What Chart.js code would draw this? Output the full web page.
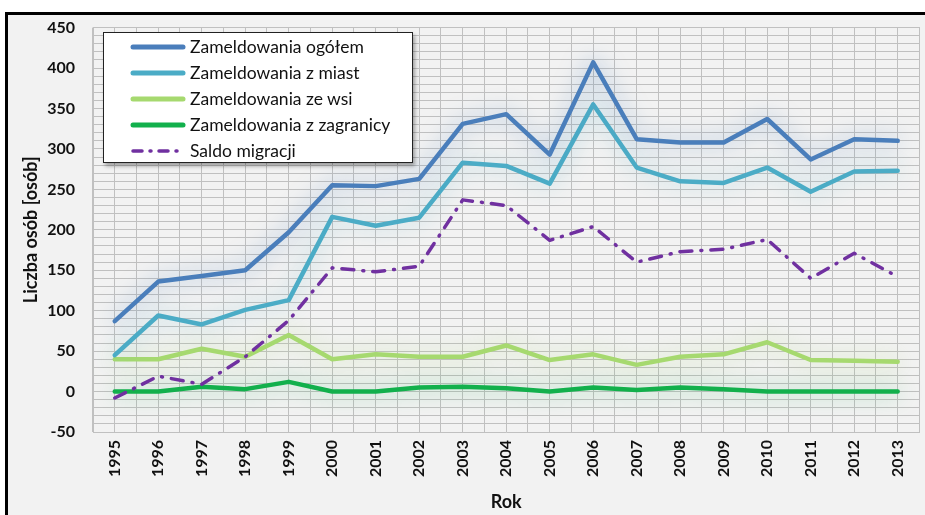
<!DOCTYPE html>
<html>
<head>
<meta charset="utf-8">
<script src="https://cdn.jsdelivr.net/npm/chart.js@4/dist/chart.umd.min.js"></script>
<style>
  html, body { margin: 0; padding: 0; background: #fff; }
  #wrap { position: relative; width: 925px; height: 515px; overflow: hidden; }
  #frame {
    position: absolute; left: 5px; top: 12px; width: 940px; height: 520px;
    border-left: 3px solid #000; border-top: 3px solid #000; background: #f2f2f2;
  }
  #chart { position: absolute; left: 0; top: 0; }
  #legend {
    position: absolute; left: 103px; top: 32px; width: 308px; height: 129px;
    background: #fff; border: 1.5px solid #222; box-shadow: 2px 3px 4px rgba(0,0,0,0.35);
    font-family: Lato, "Open Sans", sans-serif; font-size: 17.5px; color: #111;
  }
  .row { position: absolute; left: 0; height: 26px; line-height: 26px; white-space: nowrap; }
  .row svg { position: absolute; left: 26px; top: 8px; }
  .row span { position: absolute; left: 86px; top: 0; }
</style>
</head>
<body>
<div id="wrap">
  <div id="frame"></div>
  <canvas id="chart" width="925" height="515"></canvas>
  <div id="legend"></div>
</div>
<script>
// lata
const years = ["1995","1996","1997","1998","1999","2000","2001","2002","2003","2004",
               "2005","2006","2007","2008","2009","2010","2011","2012","2013"];

// wartości serii
const ogolem    = [87, 136, 143, 150, 197, 255, 254, 263, 331, 343, 293, 407, 312, 308, 308, 337, 287, 312, 310];
const zMiast    = [45, 94, 83, 101, 113, 216, 205, 215, 283, 279, 257, 355, 277, 260, 258, 277, 247, 272, 273];
const zeWsi     = [40, 40, 53, 43, 70, 40, 46, 43, 43, 57, 39, 46, 33, 43, 46, 61, 39, 38, 37];
const zZagranicy = [0, 0, 6, 3, 12, 0, 0, 5, 6, 4, 0, 5, 2, 5, 3, 0, 0, 0, 0];
const saldo     = [-8, 19, 9, 43, 88, 153, 148, 155, 237, 230, 187, 204, 160, 173, 176, 188, 140, 171, 142];

const seriesNames = ["Zameldowania ogółem", "Zameldowania z miast", "Zameldowania ze wsi",
                     "Zameldowania z zagranicy", "Saldo migracji"];
const yMin = -50, yMax = 450, yMinorStep = 10, yLabelStep = 50;

const colors = ["#4a7ebb", "#4bacc6", "#a6d96f", "#12b04c", "#7030a0"];
const glows  = ["rgba(74,126,187,0.6)", "rgba(75,172,198,0.45)", "rgba(166,217,111,0.6)",
                "rgba(18,176,76,0.5)", null];

// poświata pod liniami (jak efekt cienia w Excelu)
const glowPlugin = {
  id: "glow",
  beforeDatasetDraw(chart, args) {
    const g = glows[args.index];
    chart.ctx.save();
    if (g) {
      chart.ctx.shadowColor = g;
      chart.ctx.shadowBlur = 22;
    }
  },
  afterDatasetDraw(chart) {
    chart.ctx.restore();
  }
};

const allData = [ogolem, zMiast, zeWsi, zZagranicy, saldo];
const datasets = allData.map((d, i) => ({
  label: seriesNames[i],
  data: d,
  borderColor: colors[i],
  backgroundColor: colors[i],
  borderWidth: i === 4 ? 3.5 : 4.5,
  borderDash: i === 4 ? [12, 9, 1, 9] : [],
  borderCapStyle: "round",
  borderJoinStyle: "round",
  pointRadius: 0,
  tension: 0,
  order: i === 4 ? -1 : i
}));

const fontFam = "Lato, 'Open Sans', sans-serif";
const tickFont = { family: fontFam, size: 16, weight: "bold" };
const gridColor = "#c0c0c0";

new Chart(document.getElementById("chart").getContext("2d"), {
  type: "line",
  data: { labels: years, datasets: datasets },
  options: {
    responsive: false,
    animation: false,
    layout: { padding: { left: 18, top: 25, right: 4, bottom: 0 } },
    plugins: {
      legend: { display: false },
      tooltip: { enabled: false }
    },
    scales: {
      x: {
        offset: true,
        grid: { offset: false, color: gridColor, drawTicks: false },
        border: { display: false },
        ticks: {
          font: tickFont, color: "#111", padding: 8,
          minRotation: 90, maxRotation: 90, autoSkip: false
        },
        title: { display: true, text: "Rok", font: { family: fontFam, size: 18, weight: "bold" }, color: "#111", padding: { top: 2, bottom: 2 } },
        afterFit(scale) { scale.height = 83; }
      },
      xg: {
        type: "category",
        position: "bottom",
        offset: true,
        grid: { offset: true, color: gridColor, drawTicks: false },
        border: { display: true, color: gridColor },
        ticks: { display: false },
        afterFit(scale) { scale.height = 0; }
      },
      y: {
        min: yMin, max: yMax,
        grid: { color: gridColor, drawTicks: false },
        border: { display: true, color: gridColor },
        ticks: {
          stepSize: yMinorStep, autoSkip: false, font: tickFont, color: "#111", padding: 18,
          callback: v => (v % yLabelStep === 0 ? String(v) : "")
        },
        title: { display: true, text: "Liczba osób [osób]", font: { family: fontFam, size: 18, weight: "bold" }, color: "#111", padding: { top: 2, bottom: 0 } },
        afterFit(scale) { scale.width = 75; }
      },
      yr: {
        position: "right",
        min: yMin, max: yMax,
        grid: { display: false },
        border: { display: true, color: gridColor },
        ticks: { display: false },
        afterFit(scale) { scale.width = 0; }
      }
    }
  },
  plugins: [glowPlugin]
});

// legenda jako tekst HTML
const legend = document.getElementById("legend");
seriesNames.forEach((name, i) => {
  const row = document.createElement("div");
  row.className = "row";
  row.style.top = (1 + i * 26) + "px";
  const dash = i === 4 ? 'stroke-dasharray="9 8 1 8"' : "";
  const w = i === 4 ? 3.5 : 5;
  row.innerHTML = '<svg width="56" height="10"><line x1="3" y1="5" x2="53" y2="5" stroke="' + colors[i] +
    '" stroke-width="' + w + '" stroke-linecap="round" ' + dash + '/></svg><span>' + name + '</span>';
  legend.appendChild(row);
});
</script>
</body>
</html>
